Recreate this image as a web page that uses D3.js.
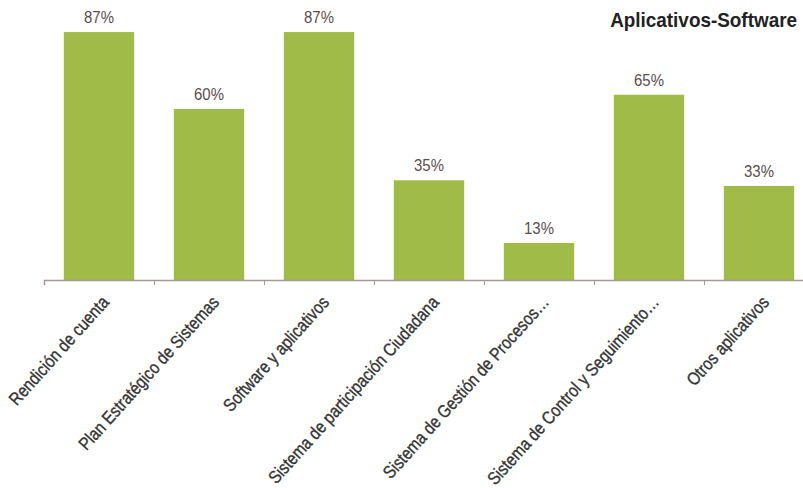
<!DOCTYPE html>
<html>
<head>
<meta charset="utf-8">
<script src="https://cdn.jsdelivr.net/npm/d3@7"></script>
<style>
  body { margin: 0; background: #fff; }
  svg { display: block; }
  text { font-family: "Liberation Sans", Arial, sans-serif; }
</style>
</head>
<body>
<svg id="chart" width="803" height="488"></svg>
<script>
// data
const categories = ["Rendición de cuenta", "Plan Estratégico de Sistemas", "Software y aplicativos",
  "Sistema de participación Ciudadana", "Sistema de Gestión de Procesos…",
  "Sistema de Control y Seguimiento…", "Otros aplicativos"];
const values = [87, 60, 87, 35, 13, 65, 33];
const title = "Aplicativos-Software";

const width = 803, height = 488;
const baseY = 280;

const svg = d3.select("#chart");
svg.append("rect").attr("width", width).attr("height", height).attr("fill", "#fff");

let x = d3.scaleBand()
  .domain(categories)
  .range([44, 814])
  .paddingInner(0.36)
  .paddingOuter(0.18);

let y = d3.scaleLinear()
  .domain([0, 100])
  .range([baseY, -5]);

// bars
svg.append("g")
  .selectAll("rect")
  .data(values)
  .enter().append("rect")
    .attr("x", (d, i) => x(categories[i]))
    .attr("y", d => y(d))
    .attr("width", x.bandwidth())
    .attr("height", d => baseY - y(d))
    .attr("fill", "#a0bb47");

// value labels (narrowed to look like a condensed face)
svg.append("g")
  .selectAll("text")
  .data(values)
  .enter().append("text")
    .attr("transform", (d, i) => `translate(${x(categories[i]) + x.bandwidth() / 2},${y(d) - 9}) scale(0.88,1)`)
    .attr("text-anchor", "middle")
    .attr("fill", "#5b4c4c")
    .style("font-size", "17px")
    .text(d => d + "%");

// axis with ticks between the categories
let xb = d3.scaleLinear().domain([0, categories.length]).range([44, 814]);
const axis = svg.append("g")
  .attr("transform", `translate(0,${baseY})`)
  .call(d3.axisBottom(xb).tickValues(d3.range(0, categories.length)).tickSize(5).tickFormat(""));
axis.select(".domain").attr("stroke", "#a39a93").attr("stroke-width", 1.5);
axis.selectAll(".tick line").attr("stroke", "#a39a93");

// rotated category labels
svg.append("g")
  .selectAll("text")
  .data(categories)
  .enter().append("text")
    .attr("transform", d => `translate(${x(d) + x.bandwidth() / 2 + 11},${baseY + 23}) rotate(-48) scale(0.85,1)`)
    .attr("text-anchor", "end")
    .attr("fill", "#333")
    .attr("stroke", "#333")
    .attr("stroke-width", 0.35)
    .style("font-size", "18px")
    .text(d => d);

// title
svg.append("text")
  .attr("transform", "translate(797,27) scale(0.9,1)")
  .attr("text-anchor", "end")
  .attr("fill", "#222")
  .style("font-size", "21px")
  .style("font-weight", "bold")
  .text(title);
</script>
</body>
</html>
